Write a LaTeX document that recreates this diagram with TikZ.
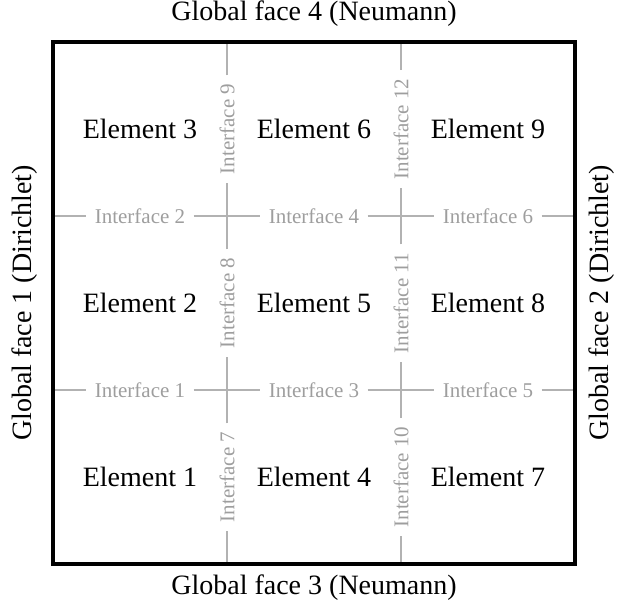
\documentclass[tikz,border=0pt]{standalone}
\usepackage{fontspec}
\setmainfont{Liberation Serif}
\begin{document}
\begin{tikzpicture}[x=0.4pt,y=-0.4pt,
  elem/.style={font=\fontsize{11.2}{13}\selectfont, text=black},
  face/.style={font=\fontsize{11.2}{13}\selectfont, text=black},
  iface/.style={font=\fontsize{8.4}{10}\selectfont, text=black!38, inner xsep=3.2pt, inner ysep=1pt},
  ifaceline/.style={draw=black!30, line width=0.75pt},
  border/.style={draw=black, line width=1.25pt}]
\useasboundingbox (0,0) rectangle (628,610);

% outer domain corners
\coordinate (nw) at (53,42);
\coordinate (se) at (575,564);

% end points of the interface lines on the domain border
\coordinate (h1w) at (53,390);  \coordinate (h1e) at (575,390);
\coordinate (h2w) at (53,216);  \coordinate (h2e) at (575,216);
\coordinate (v1s) at (227,564); \coordinate (v1n) at (227,42);
\coordinate (v2s) at (401,564); \coordinate (v2n) at (401,42);

% horizontal interface labels
\node[iface] (i1) at (140,390) {Interface 1};
\node[iface] (i3) at (314,390) {Interface 3};
\node[iface] (i5) at (488,390) {Interface 5};
\node[iface] (i2) at (140,216) {Interface 2};
\node[iface] (i4) at (314,216) {Interface 4};
\node[iface] (i6) at (488,216) {Interface 6};

% vertical interface labels
\node[iface, rotate=90] (i7)  at (227,477) {Interface 7};
\node[iface, rotate=90] (i8)  at (227,303) {Interface 8};
\node[iface, rotate=90] (i9)  at (227,129) {Interface 9};
\node[iface, rotate=90] (i10) at (401,477) {Interface 10};
\node[iface, rotate=90] (i11) at (401,303) {Interface 11};
\node[iface, rotate=90] (i12) at (401,129) {Interface 12};

% interface lines, interrupted by their labels
\draw[ifaceline] (h1w) -- (i1) -- (i3) -- (i5) -- (h1e);
\draw[ifaceline] (h2w) -- (i2) -- (i4) -- (i6) -- (h2e);
\draw[ifaceline] (v1s) -- (i7) -- (i8) -- (i9) -- (v1n);
\draw[ifaceline] (v2s) -- (i10) -- (i11) -- (i12) -- (v2n);

% domain boundary
\draw[border] (nw) rectangle (se);

% elements
\node[elem] (e1) at (140,477) {Element 1};
\node[elem] (e2) at (140,303) {Element 2};
\node[elem] (e3) at (140,129) {Element 3};
\node[elem] (e4) at (314,477) {Element 4};
\node[elem] (e5) at (314,303) {Element 5};
\node[elem] (e6) at (314,129) {Element 6};
\node[elem] (e7) at (488,477) {Element 7};
\node[elem] (e8) at (488,303) {Element 8};
\node[elem] (e9) at (488,129) {Element 9};

% global faces
\node[face] (f4) at (314,14) {Global face 4 (Neumann)};
\node[face] (f3) at (314,588) {Global face 3 (Neumann)};
\node[face, rotate=90] (f1) at (25,303) {Global face 1 (Dirichlet)};
\node[face, rotate=90] (f2) at (602,303) {Global face 2 (Dirichlet)};
\end{tikzpicture}
\end{document}
